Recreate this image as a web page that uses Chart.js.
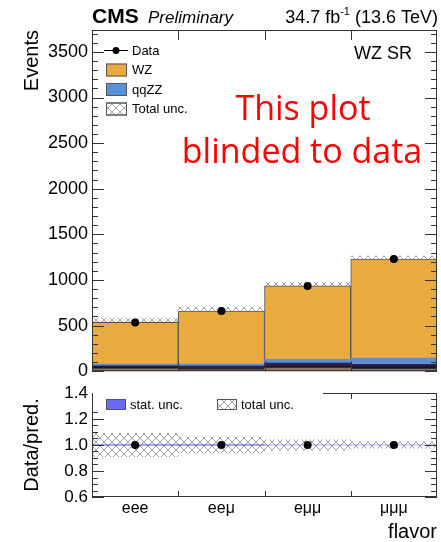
<!DOCTYPE html>
<html>
<head>
<meta charset="utf-8">
<script src="https://cdn.jsdelivr.net/npm/chart.js@4.4.1/dist/chart.umd.min.js"></script>
<style>
  body { margin: 0; background: #fff; }
  #wrap { position: relative; width: 441px; height: 542px; }
  #main { position: absolute; left: 0; top: 0; }
  #ratio { position: absolute; left: 0; top: 378px; }
</style>
</head>
<body>
<div id="wrap">
  <canvas id="main" width="441" height="386"></canvas>
  <canvas id="ratio" width="441" height="164"></canvas>
</div>
<script>
// yields per lepton flavour channel
const flavors = ['eee', 'eeμ', 'eμμ', 'μμμ'];
const vvv       = [8, 5, 14, 4];
const ggzz      = [18, 10, 20, 20];
const nonprompt = [22, 15, 22, 30];
const ttz       = [10, 25, 33, 20];
const qqzz      = [20, 22, 42, 70];
const wz        = [457, 583, 804, 1086];
const totUnc    = [48, 40, 37, 31];
const statUnc   = [0.003, 0.003, 0.002, 0.002];
const observed  = [535, 660, 935, 1230];

const eventTicks = [0, 500, 1000, 1500, 2000, 2500, 3000, 3500];
const ratioTicks = [0.6, 0.8, 1.0, 1.2, 1.4];

const total = wz.map((v, i) => v + qqzz[i] + ttz[i] + nonprompt[i] + ggzz[i] + vvv[i]);

Chart.defaults.font.family = "'Liberation Sans', Arial, sans-serif";
Chart.defaults.color = '#000';

function hatch(color) {
  const c = document.createElement('canvas');
  c.width = c.height = 8;
  const g = c.getContext('2d');
  g.strokeStyle = color;
  g.lineWidth = 0.8;
  g.beginPath();
  g.moveTo(0, 0); g.lineTo(8, 8);
  g.moveTo(8, 0); g.lineTo(0, 8);
  g.stroke();
  return g.createPattern(c, 'repeat');
}
const hatchFill = hatch('#8a8a8a');

// frame + inward ticks, ROOT style
const rootFrame = {
  id: 'rootFrame',
  afterDatasetsDraw(chart, args, o) {
    const {ctx, chartArea: a, scales: {x, y}} = chart;
    ctx.save();
    ctx.strokeStyle = '#333';
    ctx.lineWidth = 1;
    ctx.beginPath();
    const n0 = Math.ceil(y.min / o.minor - 1e-6), n1 = Math.floor(y.max / o.minor + 1e-6);
    for (let k = n0; k <= n1; k++) {
      const py = Math.round(y.getPixelForValue(k * o.minor)) + 0.5;
      const len = k % o.every === 0 ? 12 : 6;
      ctx.moveTo(a.left, py); ctx.lineTo(a.left + len, py);
      ctx.moveTo(a.right, py); ctx.lineTo(a.right - len, py);
    }
    for (let i = 0; i < flavors.length - 1; i++) {
      const px = Math.round((x.getPixelForValue(i) + x.getPixelForValue(i + 1)) / 2) + 0.5;
      ctx.moveTo(px, a.top); ctx.lineTo(px, a.top + o.xTick);
      ctx.moveTo(px, a.bottom); ctx.lineTo(px, a.bottom - o.xTick);
    }
    ctx.stroke();
    ctx.strokeRect(a.left + 0.5, a.top + 0.5, a.width - 1, a.height - 1);
    ctx.restore();
  }
};

function legendBox(ctx, x, y, w, h, fill) {
  ctx.fillStyle = fill;
  ctx.fillRect(x, y, w, h);
  ctx.strokeStyle = '#555';
  ctx.lineWidth = 1;
  ctx.strokeRect(x + 0.5, y + 0.5, w - 1, h - 1);
}

// legend and captions of the upper pad
const mainText = {
  id: 'mainText',
  afterDraw(chart) {
    const {ctx, data: {datasets}} = chart;
    ctx.save();
    ctx.textBaseline = 'alphabetic';
    ctx.fillStyle = '#000';
    ctx.font = "bold 21px 'Liberation Sans'";
    ctx.fillText('CMS', 92, 23);
    ctx.font = "italic 17px 'Liberation Sans'";
    ctx.fillText('Preliminary', 148, 23);

    ctx.textAlign = 'right';
    ctx.font = "18px 'Liberation Sans'";
    const tail = ' (13.6 TeV)';
    let xr = 438 - ctx.measureText(tail).width;
    ctx.fillText(tail, 438, 23);
    ctx.font = "11px 'Liberation Sans'";
    ctx.fillText('-1', xr, 15);
    xr -= ctx.measureText('-1').width;
    ctx.font = "18px 'Liberation Sans'";
    ctx.fillText('34.7 fb', xr, 23);

    ctx.fillText('WZ SR', 412, 59);

    ctx.textAlign = 'center';
    ctx.fillStyle = '#ff0000';
    ctx.font = "34px 'Open Sans'";
    ctx.fillText('This plot', 303, 120);
    ctx.fillText('blinded to data', 302, 163);

    // legend
    ctx.textAlign = 'left';
    ctx.textBaseline = 'middle';
    ctx.font = "13px 'Liberation Sans'";
    const byLabel = l => datasets.find(d => d.label === l);
    const rows = [
      {label: 'Data', kind: 'point'},
      {label: 'WZ', kind: 'box'},
      {label: 'qqZZ', kind: 'box'},
      {label: 'Total unc.', kind: 'hatch'}
    ];
    rows.forEach((r, i) => {
      const cy = 50 + i * 19.5;
      if (r.kind === 'point') {
        ctx.strokeStyle = '#000';
        ctx.lineWidth = 1;
        ctx.beginPath();
        ctx.moveTo(104, cy + 0.5); ctx.lineTo(128, cy + 0.5);
        ctx.stroke();
        ctx.fillStyle = '#000';
        ctx.beginPath();
        ctx.arc(116, cy + 0.5, 3.5, 0, Math.PI * 2);
        ctx.fill();
      } else if (r.kind === 'box') {
        legendBox(ctx, 106, cy - 6, 21, 13, byLabel(r.label).backgroundColor);
      } else {
        legendBox(ctx, 106, cy - 6, 21, 13, '#fff');
        legendBox(ctx, 106, cy - 6, 21, 13, hatchFill);
      }
      ctx.fillStyle = '#000';
      ctx.fillText(r.label, 132, cy + 1);
    });
    ctx.restore();
  }
};

const ratioText = {
  id: 'ratioText',
  afterDraw(chart) {
    const {ctx, chartArea: a} = chart;
    ctx.save();
    ctx.fillStyle = '#fff';
    ctx.fillRect(a.left + 1, a.top - 1, 230, 20);
    ctx.textBaseline = 'middle';
    ctx.font = "13px 'Liberation Sans'";
    legendBox(ctx, 106, a.top + 6, 20, 11, '#6b6bf2');
    ctx.fillStyle = '#000';
    ctx.fillText('stat. unc.', 130, a.top + 12);
    legendBox(ctx, 217, a.top + 6, 20, 11, '#fff');
    legendBox(ctx, 217, a.top + 6, 20, 11, hatchFill);
    ctx.fillStyle = '#000';
    ctx.fillText('total unc.', 241, a.top + 12);
    ctx.restore();
  }
};

const barBase = {type: 'bar', barPercentage: 1, categoryPercentage: 1, borderWidth: 0, order: 1};

new Chart(document.getElementById('main'), {
  type: 'bar',
  data: {
    labels: flavors,
    datasets: [
      {...barBase, label: 'VVV', data: vvv, backgroundColor: '#c4601e'},
      {...barBase, label: 'ggZZ', data: ggzz, backgroundColor: '#7b7b7b'},
      {...barBase, label: 'Nonprompt', data: nonprompt, backgroundColor: '#1e1620'},
      {...barBase, label: 'ttZ', data: ttz, backgroundColor: '#2e1f55'},
      {...barBase, label: 'qqZZ', data: qqzz, backgroundColor: '#5b8fd6'},
      {...barBase, label: 'WZ', data: wz, backgroundColor: '#e9aa40', borderWidth: 1, borderColor: '#555'},
      {
        ...barBase, label: 'Total unc.', stack: 'unc', grouped: false, order: 5,
        data: total.map((t, i) => [t - totUnc[i], t + totUnc[i]]),
        backgroundColor: hatchFill
      },
      {
        type: 'line', label: 'Data', stack: 'pts', order: 0, data: observed,
        showLine: false, pointRadius: 4, pointBackgroundColor: '#000', pointBorderWidth: 0
      }
    ]
  },
  options: {
    responsive: false,
    animation: false,
    layout: {padding: {top: 30, right: 4, bottom: 12, left: 0}},
    plugins: {
      legend: {display: false},
      tooltip: {enabled: false},
      rootFrame: {minor: 100, every: 5, xTick: 10}
    },
    scales: {
      x: {stacked: true, display: false, offset: true},
      y: {
        stacked: true, min: 0, max: 3740,
        afterFit: s => { s.width = 92; },
        afterBuildTicks: s => { s.ticks = eventTicks.map(v => ({value: v})); },
        border: {display: false},
        grid: {display: false, drawTicks: false},
        ticks: {padding: 4, font: {size: 18}, callback: v => String(v)},
        title: {display: true, text: 'Events', align: 'end', font: {size: 20}, padding: {top: 20}}
      }
    }
  },
  plugins: [rootFrame, mainText]
});

new Chart(document.getElementById('ratio'), {
  type: 'bar',
  data: {
    labels: flavors,
    datasets: [
      {
        ...barBase, label: 'total unc.', grouped: false, order: 5,
        data: total.map((t, i) => [1 - totUnc[i] / t, 1 + totUnc[i] / t]),
        backgroundColor: hatchFill
      },
      {
        ...barBase, label: 'stat. unc.', grouped: false, order: 2,
        data: statUnc.map(s => [1 - s, 1 + s]),
        backgroundColor: '#6b6bf2', borderWidth: 1, borderColor: '#3a3ad0', borderSkipped: false
      },
      {
        type: 'line', label: 'Data', order: 0, data: observed.map((d, i) => d / total[i]),
        showLine: false, pointRadius: 4, pointBackgroundColor: '#000', pointBorderWidth: 0
      }
    ]
  },
  options: {
    responsive: false,
    animation: false,
    layout: {padding: {top: 15, right: 4, bottom: 0, left: 0}},
    plugins: {
      legend: {display: false},
      tooltip: {enabled: false},
      rootFrame: {minor: 0.05, every: 4, xTick: 6}
    },
    scales: {
      x: {
        offset: true,
        afterFit: s => { s.height = 45; },
        border: {display: false},
        grid: {display: false, drawTicks: false},
        ticks: {padding: 2, font: {size: 16}},
        title: {display: true, text: 'flavor', align: 'end', font: {size: 20, lineHeight: 1}, padding: 0}
      },
      y: {
        min: 0.6, max: 1.4,
        afterFit: s => { s.width = 92; },
        afterBuildTicks: s => { s.ticks = ratioTicks.map(v => ({value: v})); },
        border: {display: false},
        grid: {display: false, drawTicks: false},
        ticks: {padding: 4, font: {size: 17}, callback: v => v.toFixed(1)},
        title: {display: true, text: 'Data/pred.', font: {size: 20}, padding: {top: 20}}
      }
    }
  },
  plugins: [rootFrame, ratioText]
});
</script>
</body>
</html>
